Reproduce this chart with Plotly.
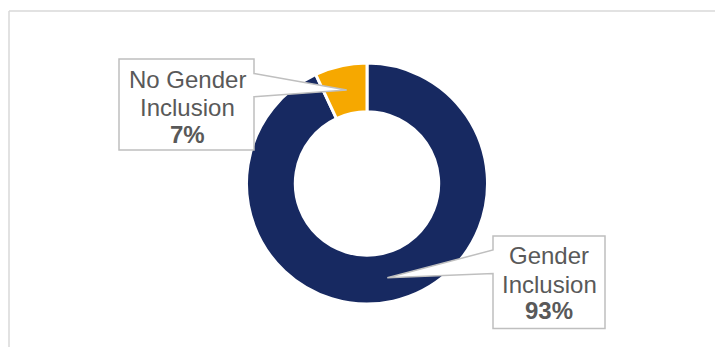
import plotly.graph_objects as go

# ---- data ----
categories = ["Gender Inclusion", "No Gender Inclusion"]
values = [93, 7]
colors = ["#172961", "#F6A800"]
label_lines = [["Gender", "Inclusion"], ["No Gender", "Inclusion"]]

W, H = 715, 347

def px(x):
    return x / W

def py(y):
    return 1 - y / H

# pie geometry (pixels)
cx, cy, R = 367, 183.5, 120.5

fig = go.Figure()
fig.add_trace(go.Pie(
    labels=categories,
    values=values,
    hole=0.595,
    sort=False,
    direction="clockwise",
    rotation=0,
    marker=dict(colors=colors, line=dict(color="white", width=3)),
    textinfo="none",
    hoverinfo="label+percent",
    showlegend=False,
    domain=dict(x=[px(cx - R), px(cx + R)], y=[py(cy + R), py(cy - R)]),
))

shapes = []
# chart frame (top and left edges visible)
shapes.append(dict(type="line", xref="paper", yref="paper", x0=px(9), x1=px(730),
                   y0=py(11), y1=py(11), line=dict(color="#d9d9d9", width=1.5), layer="below"))
shapes.append(dict(type="line", xref="paper", yref="paper", x0=px(9), x1=px(9),
                   y0=py(11), y1=py(360), line=dict(color="#d9d9d9", width=1.5), layer="below"))

def path(points):
    s = "M " + " L ".join(f"{px(x)},{py(y)}" for x, y in points) + " Z"
    return s

callout1 = [(119, 59), (254, 59), (254, 73.5), (346.7, 90), (254, 96.7), (254, 150), (119, 150)]
callout2 = [(493, 236), (605, 236), (605, 328.5), (493, 328.5), (493, 273.5), (387.3, 277.7), (493, 250)]
for pts in (callout2, callout1):
    shapes.append(dict(type="path", xref="paper", yref="paper", path=path(pts),
                       fillcolor="white", line=dict(color="#bfbfbf", width=1.5), layer="above"))

annotations = []
font_color = "#595959"
fam = "Liberation Sans, Arial, sans-serif"
label_pos = {
    0: (549, [256, 284, 310]),
    1: (187, [79, 107, 134]),
}
for i, cat in enumerate(categories):
    xc, ys = label_pos[i]
    texts = label_lines[i] + [f"<b>{values[i]}%</b>"]
    for t, yy in zip(texts, ys):
        annotations.append(dict(text=t, x=px(xc), y=py(yy), xref="paper", yref="paper",
                                xanchor="center", yanchor="middle", showarrow=False,
                                font=dict(family=fam, size=24, color=font_color)))

fig.update_layout(
    width=W, height=H,
    margin=dict(l=0, r=0, t=0, b=0),
    paper_bgcolor="white",
    plot_bgcolor="white",
    shapes=shapes,
    annotations=annotations,
)

fig.write_html("out.html")
